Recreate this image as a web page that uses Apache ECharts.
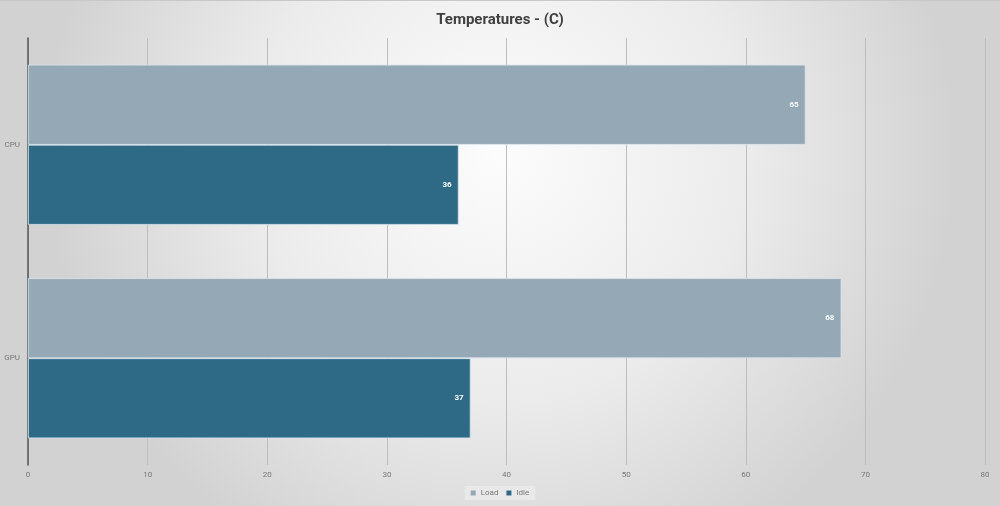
<!DOCTYPE html>
<html>
<head>
<meta charset="utf-8">
<script src="https://cdn.jsdelivr.net/npm/echarts@6/dist/echarts.min.js"></script>
<style>
  html, body { margin: 0; padding: 0; }
  #chart { width: 1000px; height: 506px; border-top: 1px solid #c8c8c8; box-sizing: border-box; }
</style>
</head>
<body>
<div id="chart"></div>
<script>
  // chart data
  var categories = ['CPU', 'GPU'];
  var loadValues = [65, 68];
  var idleValues = [36, 37];
  var xTicks = { min: 0, max: 80, interval: 10 };

  var myChart = echarts.init(document.getElementById('chart'));

  var labelStyle = {
    show: true,
    position: 'insideRight',
    color: '#fff',
    fontSize: 8,
    fontWeight: 'bold',
    fontFamily: 'Roboto',
    offset: [-2, 0]
  };

  var option = {
    backgroundColor: {
      type: 'radial', x: 0.5, y: 0.3, r: 0.9,
      colorStops: [
        { offset: 0, color: '#fcfcfc' },
        { offset: 0.55, color: '#ebebeb' },
        { offset: 1, color: '#d2d2d2' }
      ]
    },
    title: {
      text: 'Temperatures - (C)',
      left: 'center',
      top: 7,
      textStyle: { color: '#404040', fontSize: 15, fontWeight: 'bold', fontFamily: 'Roboto' }
    },
    legend: {
      bottom: 6,
      left: 'center',
      itemWidth: 5,
      itemHeight: 5,
      itemGap: 8,
      icon: 'rect',
      padding: [3, 6],
      backgroundColor: 'rgba(235,235,235,0.8)',
      itemStyle: { borderWidth: 0 },
      textStyle: { color: '#777', fontSize: 8, fontFamily: 'Roboto' },
      data: ['Load', 'Idle']
    },
    grid: { left: 28, right: 15, top: 37, bottom: 41, containLabel: false },
    xAxis: {
      type: 'value',
      min: xTicks.min,
      max: xTicks.max,
      interval: xTicks.interval,
      axisLine: { show: false },
      axisTick: { show: false },
      axisLabel: { color: '#777', fontSize: 8, fontFamily: 'Roboto', margin: 6 },
      splitLine: { lineStyle: { color: '#bdbdbd', width: 1 } }
    },
    yAxis: {
      type: 'category',
      inverse: true,
      data: categories,
      axisLine: { show: true, lineStyle: { color: '#555', width: 1.5 } },
      axisTick: { show: false },
      axisLabel: { color: '#777', fontSize: 8, fontFamily: 'Roboto', margin: 8 }
    },
    series: [
      {
        name: 'Load',
        type: 'bar',
        data: loadValues,
        barGap: '0%',
        barCategoryGap: '25%',
        itemStyle: { color: '#95a8b6', borderColor: '#dbe6ee', borderWidth: 0.8 },
        label: labelStyle
      },
      {
        name: 'Idle',
        type: 'bar',
        data: idleValues,
        itemStyle: { color: '#2e6a86', borderColor: '#dbe6ee', borderWidth: 0.8 },
        label: labelStyle
      }
    ]
  };

  myChart.setOption(option);
</script>
</body>
</html>
